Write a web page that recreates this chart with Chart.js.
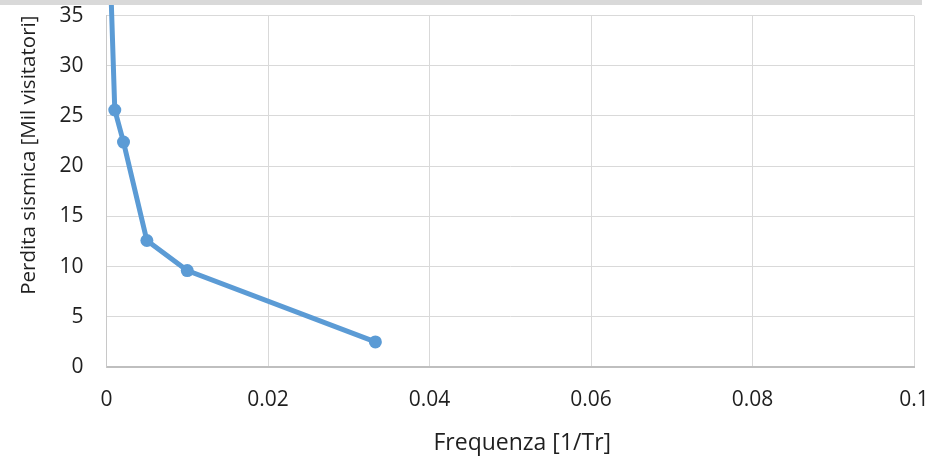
<!DOCTYPE html>
<html>
<head>
<meta charset="utf-8">
<script src="https://cdn.jsdelivr.net/npm/chart.js@4/dist/chart.umd.min.js"></script>
<style>
  html, body { margin: 0; padding: 0; background: #ffffff; }
  #wrap { width: 930px; height: 459px; position: relative; }
</style>
</head>
<body>
<div id="wrap"><canvas id="c" width="930" height="459"></canvas></div>
<script>
// ---- data ----
const frequency = [0.000404, 0.001026, 0.002105, 0.005, 0.01, 0.0333];   // 1/Tr
const seismicLoss = [41, 25.6, 22.4, 12.6, 9.6, 2.5];                    // Mil visitatori
const xTickValues = [0, 0.02, 0.04, 0.06, 0.08, 0.1];
const xTickLabels = ['0', '0.02', '0.04', '0.06', '0.08', '0.1'];
const yTickValues = [0, 5, 10, 15, 20, 25, 30, 35];
const yTickLabels = ['0', '5', '10', '15', '20', '25', '30', '35'];
const xTitle = 'Frequenza [1/Tr]';
const yTitle = 'Perdita sismica [Mil visitatori]';

const points = frequency.map((x, i) => ({ x: x, y: seismicLoss[i] }));

const FONT = "'Open Sans', sans-serif";
const TEXT = '#1f1f1f';

const decorations = {
  id: 'decorations',
  afterDraw(chart) {
    const ctx = chart.ctx;
    const area = chart.chartArea;
    ctx.save();
    // x axis title (Excel places it slightly right of the plot centre)
    ctx.fillStyle = TEXT;
    ctx.font = "23px " + FONT;
    ctx.textAlign = 'center';
    ctx.textBaseline = 'middle';
    ctx.fillText(xTitle, (area.left + area.right) / 2 + 12, chart.height - 16);
    // cropped frame band at the top
    ctx.fillStyle = '#D9D9D9';
    ctx.fillRect(0, 0, 922, 5);
    ctx.restore();
  }
};

new Chart(document.getElementById('c'), {
  type: 'scatter',
  data: {
    datasets: [{
      data: points,
      showLine: true,
      borderColor: '#5B9BD5',
      backgroundColor: '#5B9BD5',
      borderWidth: 5,
      pointRadius: 6.5,
      pointHoverRadius: 6.5,
      pointBorderWidth: 0,
      tension: 0,
      clip: false
    }]
  },
  options: {
    responsive: false,
    animation: false,
    devicePixelRatio: 1,
    layout: { padding: { top: 15.6, right: 16, left: 0, bottom: 0 } },
    plugins: { legend: { display: false }, tooltip: { enabled: false } },
    scales: {
      x: {
        type: 'linear',
        min: 0, max: 0.1,
        afterBuildTicks(scale) { scale.ticks = xTickValues.map(v => ({ value: v })); },
        afterFit(scale) { scale.height = 92; scale.paddingLeft = 0; scale.paddingRight = 0; },
        ticks: {
          color: TEXT,
          font: { family: FONT, size: 21 },
          padding: 20,
          maxRotation: 0,
          callback: (v) => { const i = xTickValues.indexOf(v); return i >= 0 ? xTickLabels[i] : ''; }
        },
        grid: { color: '#D9D9D9', lineWidth: 1, drawTicks: false },
        border: { color: '#BFBFBF', width: 2 },
        title: { display: false, text: xTitle }
      },
      y: {
        type: 'linear',
        min: 0, max: 35,
        afterBuildTicks(scale) { scale.ticks = yTickValues.map(v => ({ value: v })); },
        afterFit(scale) { scale.width = 106.5; scale.paddingTop = 0; scale.paddingBottom = 0; },
        ticks: {
          color: TEXT,
          font: { family: FONT, size: 21 },
          padding: 23,
          callback: (v) => { const i = yTickValues.indexOf(v); return i >= 0 ? yTickLabels[i] : ''; }
        },
        grid: { color: '#D9D9D9', lineWidth: 1, drawTicks: false },
        border: { color: '#C8C8C8', width: 1 },
        title: {
          display: true, text: yTitle, color: TEXT, align: 'end',
          font: { family: FONT, size: 20.5 },
          padding: { top: 17, bottom: 0 }
        }
      }
    }
  },
  plugins: [decorations]
});
</script>
</body>
</html>
